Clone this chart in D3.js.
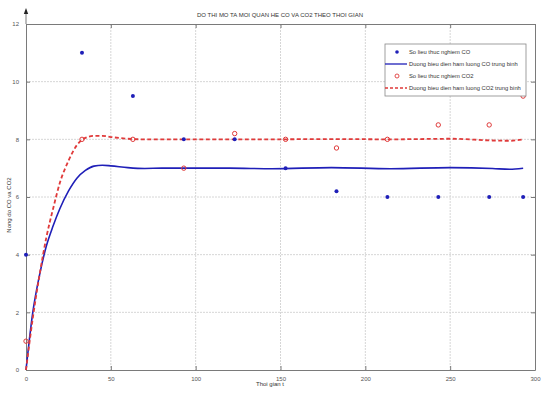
<!DOCTYPE html>
<html>
<head>
<meta charset="utf-8">
<script src="https://cdn.jsdelivr.net/npm/d3@7"></script>
<style>
  html, body { margin: 0; padding: 0; background: #fff; }
  svg { display: block; font-family: "Liberation Sans", Arial, sans-serif; }
</style>
</head>
<body>
<svg id="chart" width="546" height="395"></svg>
<script>
// Measured samples (time, concentration)
const obsTimes = [0, 33, 63, 93, 123, 153, 183, 213, 243, 273, 293];
const coObs    = [4, 11, 9.5, 8, 8, 7, 6.2, 6, 6, 6, 6];
const co2Obs   = [1, 8, 8, 7, 8.2, 8, 7.7, 8, 8.5, 8.5, 9.5];

// Average curves
const fitTimes = [0, 4, 8, 12, 16, 20, 25, 30, 35, 40, 45, 50, 60, 70, 80, 100, 120, 145, 180, 215, 250, 275, 285, 293];
const coFit    = [0, 2, 3.3, 4.3, 5.0, 5.6, 6.2, 6.65, 6.92, 7.07, 7.1, 7.08, 7.02, 6.99, 7.0, 7.0, 7.0, 6.98, 7.02, 6.98, 7.02, 6.99, 6.96, 7.0];
const co2Fit   = [0, 1.8, 3.3, 4.6, 5.6, 6.5, 7.25, 7.8, 8.05, 8.12, 8.12, 8.08, 8.02, 8.0, 8.0, 8.0, 8.0, 8.0, 8.01, 8.0, 8.02, 7.96, 7.95, 8.0];

const xTicks = [0, 50, 100, 150, 200, 250, 300];
const yTicks = [0, 2, 4, 6, 8, 10, 12];

const titleText = "DO THI MO TA MOI QUAN HE CO VA CO2 THEO THOI GIAN";
const xLabel = "Thoi gian t";
const yLabel = "Nong do CO va CO2";
const legendLabels = [
  "So lieu thuc nghiem CO",
  "Duong bieu dien ham luong CO trung binh",
  "So lieu thuc nghiem CO2",
  "Duong bieu dien ham luong CO2 trung binh"
];

const blue = "#1f1fb8";
const red = "#e03a3a";
const axisColor = "#7a7a7a";
const gridColor = "#d6d6d6";
const textColor = "#555";

const m = { left: 26, right: 535, top: 24, bottom: 370 };
const svg = d3.select("#chart");

const x = d3.scaleLinear().domain([0, 300]).range([m.left, m.right]);
const y = d3.scaleLinear().domain([0, 12]).range([m.bottom, m.top]);

// Grid
const grid = svg.append("g");
grid.selectAll("line.gx").data(xTicks.slice(1, -1)).join("line")
  .attr("x1", d => x(d)).attr("x2", d => x(d))
  .attr("y1", m.top).attr("y2", m.bottom)
  .attr("stroke", gridColor).attr("stroke-width", 1).attr("stroke-dasharray", "2,1");
grid.selectAll("line.gy").data(yTicks.slice(1, -1)).join("line")
  .attr("x1", m.left).attr("x2", m.right)
  .attr("y1", d => y(d)).attr("y2", d => y(d))
  .attr("stroke", gridColor).attr("stroke-width", 1).attr("stroke-dasharray", "2,1");

// Axes (ticks inward on all four sides)
function styleAxis(g) {
  g.select(".domain").attr("stroke", axisColor);
  g.selectAll(".tick line").attr("stroke", axisColor);
  g.selectAll(".tick text").attr("fill", textColor).attr("font-size", 6);
}
svg.append("g").attr("transform", `translate(0,${m.bottom})`)
  .call(d3.axisBottom(x).tickValues(xTicks).tickSizeInner(-4).tickSizeOuter(0).tickPadding(7))
  .call(styleAxis);
svg.append("g").attr("transform", `translate(0,${m.top})`)
  .call(d3.axisTop(x).tickValues(xTicks).tickSizeInner(-4).tickSizeOuter(0).tickFormat(""))
  .call(styleAxis);
svg.append("g").attr("transform", `translate(${m.left},0)`)
  .call(d3.axisLeft(y).tickValues(yTicks).tickSizeInner(-4).tickSizeOuter(0).tickPadding(7))
  .call(styleAxis);
svg.append("g").attr("transform", `translate(${m.right},0)`)
  .call(d3.axisRight(y).tickValues(yTicks).tickSizeInner(-4).tickSizeOuter(0).tickFormat(""))
  .call(styleAxis);

// Arrow extending the vertical axis above the plot
svg.append("line")
  .attr("x1", x(0)).attr("x2", x(0)).attr("y1", y(12)).attr("y2", y(12) - 12)
  .attr("stroke", axisColor).attr("stroke-width", 1);
svg.append("path")
  .attr("d", `M${x(0)},${y(12) - 16} L${x(0) - 2.2},${y(12) - 10} L${x(0) + 2.2},${y(12) - 10} Z`)
  .attr("fill", "#222");

// Curves
const fitLine = d3.line().x((d, i) => x(fitTimes[i])).y(d => y(d)).curve(d3.curveMonotoneX);
svg.append("path").datum(coFit).attr("d", fitLine)
  .attr("fill", "none").attr("stroke", blue).attr("stroke-width", 1.6);
svg.append("path").datum(co2Fit).attr("d", fitLine)
  .attr("fill", "none").attr("stroke", red).attr("stroke-width", 1.8).attr("stroke-dasharray", "4,2.5");

// Observations
svg.append("g").selectAll("circle").data(coObs).join("circle")
  .attr("cx", (d, i) => x(obsTimes[i])).attr("cy", d => y(d))
  .attr("r", 2).attr("fill", blue);
svg.append("g").selectAll("circle").data(co2Obs).join("circle")
  .attr("cx", (d, i) => x(obsTimes[i])).attr("cy", d => y(d))
  .attr("r", 2.2).attr("fill", "none").attr("stroke", red).attr("stroke-width", 1);

// Titles
svg.append("text").attr("x", 280).attr("y", 17).attr("text-anchor", "middle")
  .attr("font-size", 6).attr("fill", "#333").text(titleText);
svg.append("text").attr("x", 270).attr("y", 386).attr("text-anchor", "middle")
  .attr("font-size", 6).attr("fill", "#333").text(xLabel);
svg.append("text").attr("transform", "translate(11,205) rotate(-90)").attr("text-anchor", "middle")
  .attr("font-size", 6).attr("fill", "#333").text(yLabel);

// Legend
const lg = svg.append("g").attr("transform", "translate(385,44)");
lg.append("rect").attr("width", 141).attr("height", 52)
  .attr("fill", "#fff").attr("stroke", "#888").attr("stroke-width", 0.8);
legendLabels.forEach((label, i) => {
  const cy = 8 + i * 12;
  if (i === 0) {
    lg.append("circle").attr("cx", 12).attr("cy", cy).attr("r", 1.8).attr("fill", blue);
  } else if (i === 1) {
    lg.append("line").attr("x1", 0).attr("x2", 22).attr("y1", cy).attr("y2", cy)
      .attr("stroke", blue).attr("stroke-width", 1.3);
  } else if (i === 2) {
    lg.append("circle").attr("cx", 12).attr("cy", cy).attr("r", 2).attr("fill", "none")
      .attr("stroke", red).attr("stroke-width", 0.9);
  } else {
    lg.append("line").attr("x1", 0).attr("x2", 22).attr("y1", cy).attr("y2", cy)
      .attr("stroke", red).attr("stroke-width", 1.4).attr("stroke-dasharray", "3,2");
  }
  lg.append("text").attr("x", 24).attr("y", cy + 2).attr("font-size", 5.8)
    .attr("fill", "#333").text(label);
});
</script>
</body>
</html>
